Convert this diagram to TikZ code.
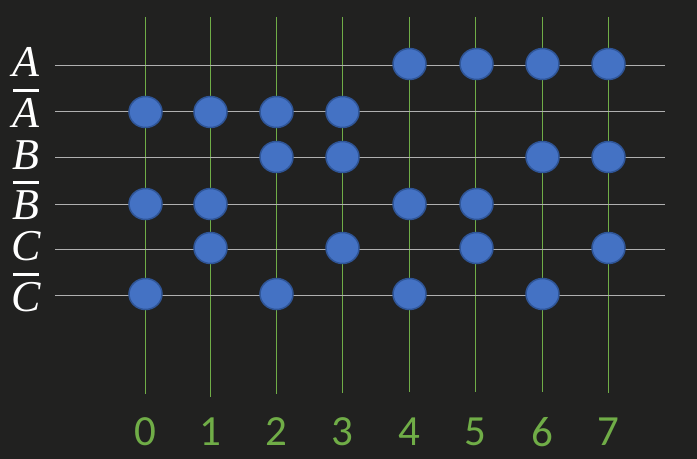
\documentclass[tikz,border=0pt]{standalone}
\usepackage{fontspec}
\setmainfont{Liberation Serif}
\newfontfamily\digitfont{Carlito}
\usetikzlibrary{shapes.geometric}
\definecolor{bg}{HTML}{212120}
\definecolor{gridgreen}{HTML}{70AD47}
\definecolor{gridgray}{HTML}{B0B0B0}
\definecolor{dotfill}{HTML}{4472C4}
\definecolor{dotedge}{HTML}{2F5597}
\tikzset{
  vline/.style={gridgreen, line width=1.1bp},
  hline/.style={gridgray, line width=1.1bp},
  dot/.style={ellipse, fill=dotfill, draw=dotedge, line width=1.5bp, minimum width=33bp, minimum height=31bp, inner sep=0pt},
  varlabel/.style={text=white, inner sep=0pt, font=\fontsize{44bp}{44bp}\selectfont\itshape},
  digitlabel/.style={text=gridgreen, inner sep=0pt, font=\digitfont\fontsize{43bp}{43bp}\selectfont},
  overbar/.style={white, line width=3bp}
}
\begin{document}
\begin{tikzpicture}[x=1bp,y=-1bp]
\fill[bg] (0,0) rectangle (697,459);
\useasboundingbox (0,0) rectangle (697,459);
% vertical lines and digit labels
\foreach \i/\x/\b in {0/145/394,1/210/397,2/276/394,3/342/393,4/409/392,5/475/392,6/542/392,7/608/393}{
  \coordinate (vt\i) at (\x+0.5,17);
  \coordinate (vb\i) at (\x+0.5,\b);
  \draw[vline] (vt\i) -- (vb\i);
  \node[digitlabel] (d\i) at (\x,432) {\i};
}
% horizontal lines
\foreach \r/\y in {1/65,2/111,3/157,4/204,5/249,6/295}{
  \coordinate (hl\r) at (55,\y+0.5);
  \coordinate (hr\r) at (665,\y+0.5);
  \draw[hline] (hl\r) -- (hr\r);
}
% variable labels
\node[varlabel] (lA) at (26,62) {A};
\node[varlabel] (lAn) at (26,113) {A};
\node[varlabel] (lB) at (26,155) {B};
\node[varlabel] (lBn) at (26,205) {B};
\node[varlabel] (lC) at (26,246) {C};
\node[varlabel] (lCn) at (26,297) {C};
\coordinate (oA1) at (13,91); \coordinate (oA2) at (39,91);
\coordinate (oB1) at (13,183); \coordinate (oB2) at (39,183);
\coordinate (oC1) at (13,275); \coordinate (oC2) at (39,275);
\draw[overbar] (oA1) -- (oA2);
\draw[overbar] (oB1) -- (oB2);
\draw[overbar] (oC1) -- (oC2);
% dots
\foreach \x/\n in {409/4,476/5,542/6,608/7}{\node[dot] (a\n) at (\x+0.5,64) {};}
\foreach \x/\n in {145/0,210/1,276/2,342/3}{\node[dot] (na\n) at (\x+0.5,112) {};}
\foreach \x/\n in {276/2,342/3,542/6,608/7}{\node[dot] (b\n) at (\x+0.5,157) {};}
\foreach \x/\n in {145/0,210/1,409/4,476/5}{\node[dot] (nb\n) at (\x+0.5,204) {};}
\foreach \x/\n in {210/1,342/3,476/5,608/7}{\node[dot] (c\n) at (\x+0.5,248) {};}
\foreach \x/\n in {145/0,276/2,409/4,542/6}{\node[dot] (nc\n) at (\x+0.5,294) {};}
\end{tikzpicture}
\end{document}
